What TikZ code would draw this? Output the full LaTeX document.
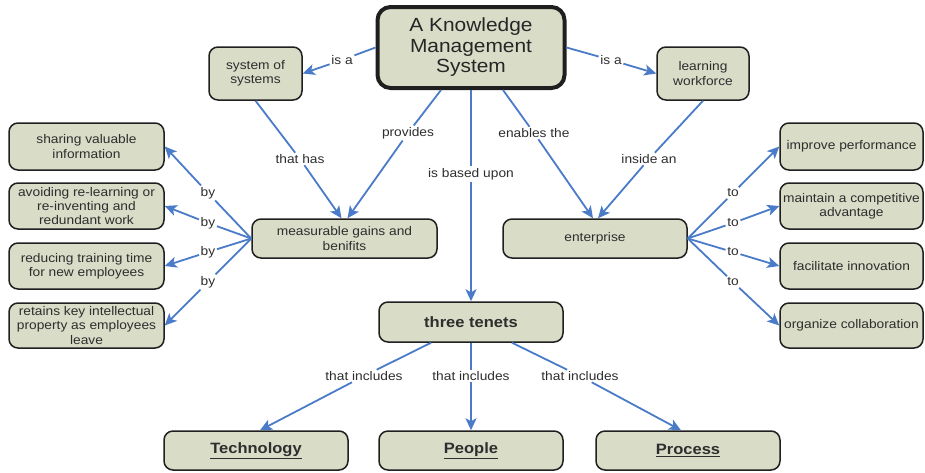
\documentclass[tikz,border=0pt]{standalone}
\usepackage{fontspec}
\setmainfont{Liberation Sans}[FakeStretch=1.1]
\usetikzlibrary{arrows.meta}
\definecolor{boxfill}{HTML}{D9DCC7}
\definecolor{linkblue}{HTML}{4A7BC8}
\definecolor{inkgray}{HTML}{2E2E2E}

\begin{document}
\begin{tikzpicture}[x=1pt,y=-1pt,
  concept/.style={draw=black!88, line width=1.5pt, fill=boxfill, rounded corners=9pt,
    align=center, inner sep=0pt, text=inkgray, font=\fontsize{12.5}{14.2}\selectfont},
  rootconcept/.style={concept, line width=4pt, rounded corners=13pt, text=black!85,
    font=\fontsize{19}{20.5}\selectfont},
  tenet/.style={concept, font=\fontsize{15}{17}\bfseries\selectfont},
  linkword/.style={inner sep=1.5pt, text=inkgray, font=\fontsize{12.5}{14}\selectfont},
  link/.style={draw=linkblue, line width=1.8pt, -{Stealth[length=12pt,width=11pt,inset=3pt]}},
]
\useasboundingbox (0,0) rectangle (925,472);

% concepts
\node[rootconcept, minimum width=187pt, minimum height=81pt] (kms) at (471,47.5)
  {A Knowledge\\Management\\System};
\node[concept, minimum width=93pt, minimum height=53pt] (sos) at (255.5,73.5) {system of\\systems};
\node[concept, minimum width=92pt, minimum height=53pt] (learn) at (703,73.5) {learning\\workforce};

\node[concept, minimum width=155pt, minimum height=47pt] (share) at (86.5,146.5) {sharing valuable\\information};
\node[concept, minimum width=155pt, minimum height=46pt] (avoid) at (86.5,206) {avoiding re-learning or\\re-inventing and\\redundant work};
\node[concept, minimum width=155pt, minimum height=46pt] (reduce) at (86.5,266) {reducing training time\\for new employees};
\node[concept, minimum width=155pt, minimum height=45pt] (retain) at (86.5,325.5) {retains key intellectual\\property as employees\\leave};

\node[concept, minimum width=185pt, minimum height=39pt] (meas) at (344.5,238.5) {measurable gains and\\benifits};
\node[concept, minimum width=184pt, minimum height=39pt] (ent) at (595,238.5) {enterprise};

\node[concept, minimum width=143pt, minimum height=47pt] (perf) at (851.5,146.5) {improve performance};
\node[concept, minimum width=143pt, minimum height=46pt] (comp) at (851.5,206) {maintain a competitive\\advantage};
\node[concept, minimum width=143pt, minimum height=46pt] (innov) at (851.5,266) {facilitate innovation};
\node[concept, minimum width=143pt, minimum height=45pt] (collab) at (851.5,325.5) {organize collaboration};

\node[tenet, minimum width=184pt, minimum height=40pt] (three) at (471,322) {three tenets};
\node[tenet, minimum width=184pt, minimum height=39pt] (tech) at (256,450.5) {\underline{Technology}};
\node[tenet, minimum width=184pt, minimum height=39pt] (people) at (471,450.5) {\underline{People}};
\node[tenet, minimum width=184pt, minimum height=39pt] (process) at (688,450.5) {\underline{Process}};

% linking words
\node[linkword] (isa1) at (342,60) {is a};
\node[linkword] (isa2) at (611,60) {is a};
\node[linkword] (prov) at (408,133) {provides};
\node[linkword] (enab) at (534,133) {enables the};
\node[linkword] (thas) at (300,159) {that has};
\node[linkword] (insd) at (649,159) {inside an};
\node[linkword] (based) at (471,174) {is based upon};
\node[linkword] (by1) at (208,193) {by};
\node[linkword] (by2) at (208,223) {by};
\node[linkword] (by3) at (208,252) {by};
\node[linkword] (by4) at (208,282) {by};
\node[linkword] (to1) at (733,193) {to};
\node[linkword] (to2) at (733,223) {to};
\node[linkword] (to3) at (733,252) {to};
\node[linkword] (to4) at (733,282) {to};
\node[linkword] (inc1) at (364,376) {that includes};
\node[linkword] (inc2) at (471,376) {that includes};
\node[linkword] (inc3) at (580,376) {that includes};

% connectors
\draw[link] (kms.west) -- (isa1) -- (sos.east);
\draw[link] (kms.east) -- (isa2) -- (learn.west);
\draw[link] ([xshift=-30pt]kms.south) -- (prov) -- ([xshift=3pt]meas.north);
\draw[link] ([xshift=32pt]kms.south) -- (enab) -- ([xshift=-2pt]ent.north);
\draw[link] (sos.south) -- (thas) -- ([xshift=-3pt]meas.north);
\draw[link] (learn.south) -- (insd) -- ([xshift=3pt]ent.north);
\draw[link] (kms.south) -- (based) -- (three.north);

\draw[link] (meas.west) -- (by1) -- (share.east);
\draw[link] (meas.west) -- (by2) -- (avoid.east);
\draw[link] (meas.west) -- (by3) -- (reduce.east);
\draw[link] (meas.west) -- (by4) -- (retain.east);

\draw[link] (ent.east) -- (to1) -- (perf.west);
\draw[link] (ent.east) -- (to2) -- (comp.west);
\draw[link] (ent.east) -- (to3) -- (innov.west);
\draw[link] (ent.east) -- (to4) -- (collab.west);

\draw[link] ([xshift=-40pt]three.south) -- (inc1) -- ([xshift=4pt]tech.north);
\draw[link] (three.south) -- (inc2) -- (people.north);
\draw[link] ([xshift=41pt]three.south) -- (inc3) -- ([xshift=-7pt]process.north);
\end{tikzpicture}
\end{document}
